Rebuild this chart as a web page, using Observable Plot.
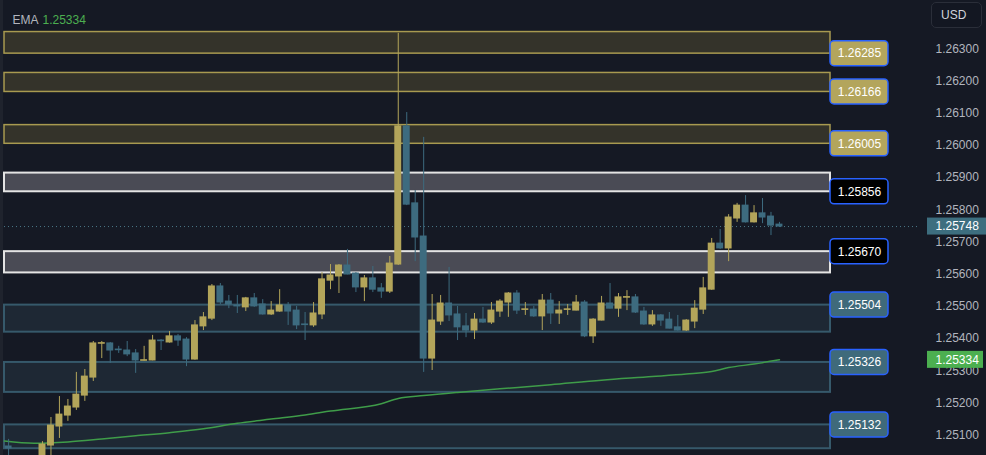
<!DOCTYPE html>
<html><head><meta charset="utf-8">
<script src="https://cdn.jsdelivr.net/npm/d3@7"></script>
<script src="https://cdn.jsdelivr.net/npm/@observablehq/plot@0.6"></script>
<style>
html,body{margin:0;padding:0;background:#151924;}
#wrap{position:relative;width:986px;height:455px;overflow:hidden;}
#usd{position:absolute;left:931px;top:2px;width:51px;height:26px;border:1px solid #2a2e39;border-radius:5px;box-sizing:border-box;color:#d1d4dc;font:12px "Liberation Sans",Arial,sans-serif;line-height:24px;padding-left:9px;background:#131722}
#edge{position:absolute;left:0;top:0;width:3px;height:455px;background:#1f232d}
</style></head><body><div id="wrap"><div id="edge"></div><div id="usd">USD</div></div>
<script>
// ---- candle data (bar index, OHLC) ----
const barIndex = [0,4,5,6,7,8,9,10,11,12,13,14,15,16,17,18,19,20,21,22,23,24,25,26,27,28,29,30,31,32,33,34,35,36,37,38,39,40,41,42,43,44,45,46,47,48,49,50,51,52,53,54,55,56,57,58,59,60,61,62,63,64,65,66,67,68,69,70,71,72,73,74,75,76,77,78,79,80,81,82,83,84,85,86,87,88,89,90,91];
const openP = [1.25065,1.25021,1.25068,1.25127,1.25161,1.25186,1.25223,1.25279,1.25384,1.25385,1.25366,1.25363,1.25354,1.25331,1.25332,1.25394,1.25388,1.25407,1.25397,1.25335,1.25438,1.25462,1.25562,1.25515,1.25503,1.25497,1.25525,1.25506,1.25475,1.25484,1.25503,1.25487,1.25444,1.25441,1.25475,1.25580,1.25593,1.25627,1.25602,1.25559,1.25587,1.25556,1.25546,1.25630,1.26059,1.25820,1.25717,1.25338,1.25453,1.25509,1.25475,1.25438,1.25425,1.25459,1.25450,1.25484,1.25512,1.25540,1.25489,1.25490,1.25469,1.25518,1.25478,1.25489,1.25487,1.25512,1.25407,1.25456,1.25509,1.25493,1.25527,1.25528,1.25484,1.25444,1.25472,1.25459,1.25435,1.25425,1.25453,1.25490,1.25552,1.25695,1.25680,1.25773,1.25813,1.25761,1.25789,1.25779,1.25754];
const highP = [1.25087,1.25080,1.25155,1.25220,1.25211,1.25295,1.25304,1.25391,1.25391,1.25388,1.25376,1.25391,1.25366,1.25376,1.25410,1.25397,1.25422,1.25413,1.25403,1.25456,1.25481,1.25568,1.25571,1.25534,1.25534,1.25528,1.25540,1.25521,1.25515,1.25552,1.25512,1.25500,1.25481,1.25512,1.25605,1.25630,1.25630,1.25677,1.25605,1.25596,1.25624,1.25571,1.25655,1.26348,1.26102,1.25860,1.26025,1.25537,1.25534,1.25621,1.25500,1.25478,1.25478,1.25497,1.25512,1.25521,1.25543,1.25549,1.25512,1.25500,1.25537,1.25540,1.25515,1.25506,1.25534,1.25518,1.25462,1.25531,1.25571,1.25540,1.25549,1.25537,1.25497,1.25487,1.25475,1.25481,1.25472,1.25459,1.25518,1.25590,1.25711,1.25739,1.25785,1.25820,1.25844,1.25813,1.25835,1.25792,1.25761];
const lowP = [1.25028,1.25015,1.25028,1.25090,1.25143,1.25177,1.25205,1.25267,1.25338,1.25323,1.25354,1.25344,1.25292,1.25330,1.25331,1.25363,1.25386,1.25376,1.25313,1.25333,1.25425,1.25456,1.25506,1.25493,1.25478,1.25484,1.25497,1.25473,1.25472,1.25482,1.25441,1.25428,1.25394,1.25435,1.25459,1.25552,1.25540,1.25598,1.25543,1.25515,1.25543,1.25525,1.25540,1.25627,1.25813,1.25639,1.25295,1.25301,1.25441,1.25453,1.25394,1.25403,1.25397,1.25447,1.25444,1.25466,1.25466,1.25475,1.25472,1.25466,1.25425,1.25444,1.25444,1.25472,1.25486,1.25403,1.25385,1.25455,1.25492,1.25466,1.25487,1.25478,1.25441,1.25438,1.25438,1.25430,1.25423,1.25422,1.25431,1.25475,1.25550,1.25677,1.25639,1.25761,1.25759,1.25759,1.25757,1.25720,1.25745];
const closeP = [1.25059,1.25071,1.25130,1.25164,1.25189,1.25226,1.25282,1.25385,1.25386,1.25363,1.25364,1.25351,1.25332,1.25333,1.25394,1.25392,1.25407,1.25394,1.25335,1.25441,1.25466,1.25562,1.25512,1.25506,1.25500,1.25525,1.25500,1.25475,1.25487,1.25503,1.25484,1.25441,1.25442,1.25478,1.25584,1.25596,1.25627,1.25599,1.25559,1.25587,1.25552,1.25546,1.25633,1.26059,1.25816,1.25714,1.25338,1.25456,1.25509,1.25472,1.25435,1.25425,1.25459,1.25450,1.25487,1.25515,1.25540,1.25487,1.25491,1.25469,1.25518,1.25478,1.25487,1.25491,1.25512,1.25407,1.25459,1.25509,1.25493,1.25528,1.25529,1.25481,1.25444,1.25472,1.25456,1.25431,1.25425,1.25456,1.25493,1.25556,1.25695,1.25680,1.25776,1.25813,1.25761,1.25789,1.25776,1.25751,1.25748];

// ---- EMA samples ----
const emaIndex = [-0.5,3,7,11,15,19,23,27,31,35,38,44,46,49,53,58,64,70,76,80,83,85,88,91];
const emaValue = [1.25082,1.25075,1.25079,1.25088,1.25098,1.25108,1.25120,1.25137,1.25150,1.25163,1.25175,1.25198,1.25214,1.25223,1.25233,1.25244,1.25257,1.25271,1.25282,1.25290,1.25298,1.25310,1.25321,1.25334];
const emaLast = 1.25334;
const lastClose = 1.25748;

// ---- zones ----
const zoneTop    = [1.26352,1.26225,1.26063,1.25914,1.25670,1.25504,1.25326,1.25132];
const zoneBottom = [1.26285,1.26166,1.26005,1.25856,1.25604,1.25420,1.25233,1.25058];
const zoneLevel  = [1.26285,1.26166,1.26005,1.25856,1.25670,1.25504,1.25326,1.25132];
const zoneKind   = ["supply","supply","supply","key","key","demand","demand","demand"];

// ---- axis ticks ----
const yTicks = [1.251,1.252,1.253,1.254,1.255,1.256,1.257,1.258,1.259,1.260,1.261,1.262,1.263];

// build tables
const candles = barIndex.map((i,k)=>({i, o:openP[k], h:highP[k], l:lowP[k], c:closeP[k]}));
const ema = emaIndex.map((i,k)=>({i, v:emaValue[k]}));
const zones = zoneTop.map((t,k)=>({top:t, bottom:zoneBottom[k], level:zoneLevel[k], kind:zoneKind[k]}));

const UP = "#b3a55a", DOWN = "#3d6b7f";
const zoneFill = {supply:"#34332a", key:"#4a4b55", demand:"#1e2834"};
const zoneStroke = {supply:"#a89a50", key:"#e4e4e4", demand:"#36596b"};
const zoneSW = {supply:1.5, key:2, demand:2};
const labelFill = {supply:"#b3a55c", key:"#000000", demand:"#3f6a7b"};

const xDomain = [-0.956, 107.65];
const X = d3.scaleLinear().domain(xDomain).range([0, 920]);
const px = v => X.invert(v);

const chart = Plot.plot({
  width: 986, height: 455,
  marginLeft: 0, marginRight: 66, marginTop: 0, marginBottom: 0,
  style: {background: "#151924", fontFamily: "Liberation Sans, Arial, sans-serif", fontSize: "12px", color: "#b2b5be"},
  x: {domain: xDomain, axis: null},
  y: {domain: [1.25037, 1.26450], axis: "right", ticks: yTicks, tickSize: 0, tickPadding: 15, tickFormat: d => d.toFixed(5), label: null},
  marks: [
    Plot.rect(zones, {x1: () => px(4), x2: () => px(830), y1: "top", y2: "bottom",
      fill: d => zoneFill[d.kind], stroke: d => zoneStroke[d.kind], strokeWidth: d => zoneSW[d.kind]}),
    Plot.ruleY([lastClose], {stroke: "#4a7788", strokeDasharray: "1,3", strokeWidth: 1}),
    Plot.line(ema, {x: "i", y: "v", stroke: "#3f9c49", strokeWidth: 1.5, curve: "monotone-x"}),
    Plot.ruleX(candles, {x: "i", y1: "l", y2: "h", stroke: d => d.c >= d.o ? UP : DOWN, strokeWidth: 1}),
    Plot.rect(candles, {x1: d => d.i - 0.41, x2: d => d.i + 0.41, y1: "o", y2: "c",
      insetTop: -0.5, insetBottom: -0.5, fill: d => d.c >= d.o ? UP : DOWN}),
    Plot.rect(zones, {x1: () => px(830), x2: () => px(888), y1: "level", y2: "level",
      insetTop: -12.5, insetBottom: -12.5, rx: 4, fill: d => labelFill[d.kind], stroke: "#2962ff", strokeWidth: 1.5}),
    Plot.text(zones, {x: () => px(859), y: "level", text: d => d.level.toFixed(5), fill: "#ffffff", fontSize: 12}),
    Plot.rect([lastClose], {x1: () => px(927), x2: () => px(986), y1: d => d, y2: d => d, insetTop: -8.5, insetBottom: -8.5, fill: "#3d6e7f"}),
    Plot.text([lastClose], {x: () => px(935), y: d => d, text: d => d.toFixed(5), textAnchor: "start", fill: "#ffffff", fontSize: 12}),
    Plot.rect([emaLast], {x1: () => px(927), x2: () => px(983), y1: d => d, y2: d => d, insetTop: -8.5, insetBottom: -8.5, fill: "#4caf50"}),
    Plot.text([emaLast], {x: () => px(935), y: d => d, text: d => d.toFixed(5), textAnchor: "start", fill: "#ffffff", fontSize: 12}),
    Plot.text(["EMA"], {text: d => d, frameAnchor: "top-left", dx: 12, dy: 15, textAnchor: "start", fill: "#b2b5be", fontSize: 12}),
    Plot.text([emaLast], {text: d => d.toFixed(5), frameAnchor: "top-left", dx: 42, dy: 15, textAnchor: "start", fill: "#4caf50", fontSize: 12})
  ]
});
document.getElementById("wrap").prepend(chart);
</script>
</body></html>
